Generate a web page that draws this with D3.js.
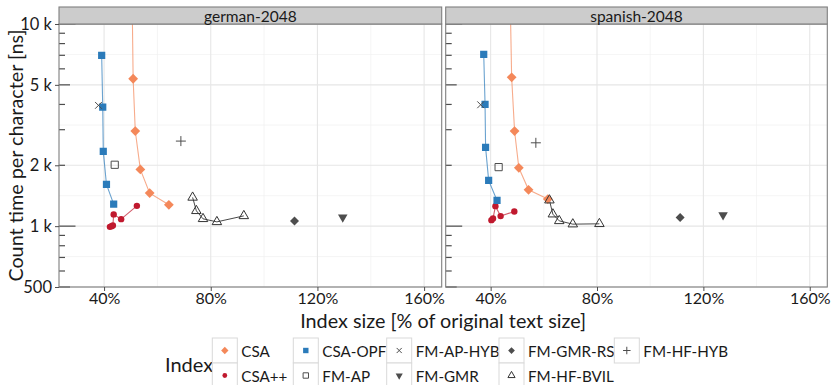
<!DOCTYPE html>
<html lang="en-US">
<head>
  <meta charset="UTF-8"/>
  <title>Count time vs index size</title>
  <style>
    body { margin: 0; background: #fff; }
    text { font-family: Lato, "Open Sans", sans-serif; fill: #1a1a1a; }
  </style>
</head>
<body>
<script src="https://cdn.jsdelivr.net/npm/d3@7"></script>
<script>

// panels and index types
var panelNames = ["german-2048", "spanish-2048"];
var indexNames = ["CSA", "CSA++", "CSA-OPF", "FM-AP", "FM-AP-HYB", "FM-GMR", "FM-GMR-RS", "FM-HF-BVIL", "FM-HF-HYB"];

// tick labels
var xTicks = [40, 80, 120, 160];
var xMinor = [60, 100, 140];
var yTicks = [500, 1000, 2000, 5000, 10000];
var yTickLabels = ["500", "1 k", "2 k", "5 k", "10 k"];

// [index size %, count time ns] -- german-2048
var deCSA      = [[50.35, 20000], [50.9, 5360], [51.7, 2954], [53.6, 1909], [57.1, 1457], [64.3, 1275]];
var deCSApp    = [[42.2, 992], [42.8, 1000], [43.3, 1008], [43.6, 1143], [46.4, 1083], [52.3, 1260]];
var deCSAOPF   = [[39.1, 7000], [39.5, 3880], [39.7, 2343], [40.9, 1608], [43.6, 1285]];
var deFMAP     = [[44.0, 2012]];
var deFMAPHYB  = [[37.9, 3958]];
var deFMGMR    = [[129.5, 1108]];
var deFMGMRRS  = [[111.4, 1059]];
var deFMHFBVIL = [[73.2, 1387], [74.6, 1191], [77.1, 1087], [82.3, 1050], [92.4, 1124]];
var deFMHFHYB  = [[68.8, 2635]];

// spanish-2048
var esCSA      = [[47.1, 20000], [47.9, 5446], [49.0, 2954], [50.6, 1944], [54.25, 1513], [61.5, 1361]];
var esCSApp    = [[40.3, 1071], [40.9, 1092], [41.8, 1256], [43.75, 1121], [48.9, 1182]];
var esCSAOPF   = [[37.4, 7079], [37.9, 4004], [38.1, 2452], [39.25, 1684], [42.4, 1340]];
var esFMAP     = [[43.0, 1959]];
var esFMAPHYB  = [[36.25, 3985]];
var esFMGMR    = [[127.4, 1134]];
var esFMGMRRS  = [[111.25, 1104]];
var esFMHFBVIL = [[62.1, 1344], [63.4, 1146], [65.8, 1062], [70.9, 1023], [80.9, 1027]];
var esFMHFHYB  = [[57.0, 2584]];

var panelData = [
  [deCSA, deCSApp, deCSAOPF, deFMAP, deFMAPHYB, deFMGMR, deFMGMRRS, deFMHFBVIL, deFMHFHYB],
  [esCSA, esCSApp, esCSAOPF, esFMAP, esFMAPHYB, esFMGMR, esFMGMRRS, esFMHFBVIL, esFMHFHYB]
];

// styling per index: shape, fill, stroke, connected line
var style = {
  "CSA":        {shape: "diamond",  fill: "#F4885A", stroke: "none",    line: "#F4885A"},
  "CSA++":      {shape: "circle",   fill: "#C0192E", stroke: "none",    line: "#C0192E"},
  "CSA-OPF":    {shape: "square",   fill: "#2B7BBA", stroke: "none",    line: "#2B7BBA"},
  "FM-AP":      {shape: "square",   fill: "none",    stroke: "#4d4d4d", line: null},
  "FM-AP-HYB":  {shape: "times",    fill: "none",    stroke: "#4d4d4d", line: null},
  "FM-GMR":     {shape: "triDown",  fill: "#4d4d4d", stroke: "none",    line: null},
  "FM-GMR-RS":  {shape: "diamondS", fill: "#4d4d4d", stroke: "none",    line: null},
  "FM-HF-BVIL": {shape: "triUp",    fill: "none",    stroke: "#333",    line: "#333"},
  "FM-HF-HYB":  {shape: "plus",     fill: "none",    stroke: "#4d4d4d", line: null}
};

var W = 831, H = 385;
var panelX = [[59, 441.7], [445.7, 827.3]];
var pTop = 24, pBottom = 287, stripH = 17;

var yScale = d3.scaleLog().domain([500, 10000]).range([pBottom, pTop]);

function shapePath(name, k) {
  k = k || 1;
  var s = 3.6 * k, r, p = d3.path();
  switch (name) {
    case "diamond":  r = 4.9 * k; return "M0," + (-r) + "L" + r + ",0L0," + r + "L" + (-r) + ",0Z";
    case "diamondS": r = 4.5 * k; return "M0," + (-r) + "L" + r + ",0L0," + r + "L" + (-r) + ",0Z";
    case "square":   return "M" + (-s) + "," + (-s) + "h" + 2 * s + "v" + 2 * s + "h" + (-2 * s) + "Z";
    case "circle":   r = 3.2 * k; p.arc(0, 0, r, 0, 2 * Math.PI); return p.toString();
    case "times":    r = 3.4 * k; return "M" + (-r) + "," + (-r) + "L" + r + "," + r + "M" + (-r) + "," + r + "L" + r + "," + (-r);
    case "plus":     r = 5 * k;   return "M" + (-r) + ",0H" + r + "M0," + (-r) + "V" + r;
    case "triUp":    r = 5.5 * k; return "M0," + (-r) + "L" + (r * 0.866) + "," + (r / 2) + "L" + (-r * 0.866) + "," + (r / 2) + "Z";
    case "triDown":  r = 5.5 * k; return "M0," + r + "L" + (r * 0.866) + "," + (-r / 2) + "L" + (-r * 0.866) + "," + (-r / 2) + "Z";
  }
}

var svg = d3.select("body").append("svg").attr("width", W).attr("height", H);

var logTicks = d3.range(500, 1000, 100).concat(d3.range(1000, 10001, 1000));
var yMinor = [707, 1414, 3162, 7071];

panelNames.forEach(function(pname, pi) {
  var x0 = panelX[pi][0], x1 = panelX[pi][1];
  var xScale = d3.scaleLinear().domain([23.1, 166.6]).range([x0, x1]);
  var g = svg.append("g");

  // grid (minor, then major)
  g.selectAll(".gmy").data(yMinor).enter().append("line")
    .attr("x1", x0).attr("x2", x1).attr("y1", yScale).attr("y2", yScale)
    .attr("stroke", "#f0f0f0").attr("stroke-width", 0.7);
  g.selectAll(".gmx").data(xMinor).enter().append("line")
    .attr("y1", pTop).attr("y2", pBottom).attr("x1", xScale).attr("x2", xScale)
    .attr("stroke", "#f0f0f0").attr("stroke-width", 0.7);
  g.selectAll(".gy").data(yTicks).enter().append("line")
    .attr("x1", x0).attr("x2", x1).attr("y1", yScale).attr("y2", yScale)
    .attr("stroke", "#e6e6e6").attr("stroke-width", 1.1);
  g.selectAll(".gx").data(xTicks).enter().append("line")
    .attr("y1", pTop).attr("y2", pBottom).attr("x1", xScale).attr("x2", xScale)
    .attr("stroke", "#e6e6e6").attr("stroke-width", 1.1);

  // log ticks on the left edge
  g.selectAll(".lt").data(logTicks).enter().append("line")
    .attr("x1", x0)
    .attr("x2", function(d) {
      var m = Math.round(d / Math.pow(10, Math.floor(Math.log10(d) + 1e-9)));
      return x0 + (m === 1 ? 16.5 : m === 5 ? 11 : 6);
    })
    .attr("y1", yScale).attr("y2", yScale)
    .attr("stroke", "#4d4d4d").attr("stroke-width", 1.2);

  // clip
  svg.append("clipPath").attr("id", "clip" + pi).append("rect")
    .attr("x", x0).attr("y", pTop).attr("width", x1 - x0).attr("height", pBottom - pTop);

  var dg = g.append("g").attr("clip-path", "url(#clip" + pi + ")");
  var line = d3.line().x(function(d) { return xScale(d[0]); }).y(function(d) { return yScale(d[1]); });

  indexNames.forEach(function(nm, ii) {
    var st = style[nm], data = panelData[pi][ii];
    if (st.line) {
      dg.append("path").datum(data).attr("d", line)
        .attr("fill", "none").attr("stroke", st.line)
        .attr("stroke-opacity", nm === "FM-HF-BVIL" ? 1 : 0.7)
        .attr("stroke-width", nm === "FM-HF-BVIL" ? 0.9 : 1.1);
    }
  });
  indexNames.forEach(function(nm, ii) {
    var st = style[nm], data = panelData[pi][ii];
    dg.selectAll(null).data(data).enter().append("path")
      .attr("transform", function(d) { return "translate(" + xScale(d[0]) + "," + yScale(d[1]) + ")"; })
      .attr("d", shapePath(st.shape))
      .attr("fill", st.fill).attr("stroke", st.stroke).attr("stroke-width", 1);
  });

  // panel border
  g.append("rect").attr("x", x0).attr("y", pTop).attr("width", x1 - x0).attr("height", pBottom - pTop)
    .attr("fill", "none").attr("stroke", "#7f7f7f").attr("stroke-width", 1.1);

  // strip
  g.append("rect").attr("x", x0).attr("y", pTop - stripH).attr("width", x1 - x0).attr("height", stripH)
    .attr("fill", "#cccccc").attr("stroke", "#7f7f7f").attr("stroke-width", 1.1);
  g.append("text").attr("x", (x0 + x1) / 2).attr("y", pTop - stripH / 2 + 0.5)
    .attr("text-anchor", "middle").attr("dominant-baseline", "central")
    .style("font-size", "15.5px").text(pname);

  // x axis
  var xa = g.append("g").attr("transform", "translate(0," + pBottom + ")")
    .call(d3.axisBottom(xScale).tickValues(xTicks).tickSize(4).tickPadding(2)
      .tickFormat(function(d) { return d + "%"; }));
  xa.select(".domain").remove();
  xa.selectAll("line").attr("stroke", "#4d4d4d");
  xa.selectAll("text").style("font-size", "16px").attr("fill", "#1a1a1a").style("font-family", null);

  // y axis (left panel only)
  if (pi === 0) {
    var ya = g.append("g").attr("transform", "translate(" + x0 + ",0)")
      .call(d3.axisLeft(yScale).tickValues(yTicks).tickSize(4).tickPadding(3)
        .tickFormat(function(d, i) { return yTickLabels[i]; }));
    ya.select(".domain").remove();
    ya.selectAll("line").attr("stroke", "#4d4d4d");
    ya.selectAll("text").style("font-size", "16.5px").attr("fill", "#1a1a1a").style("font-family", null);
  }
});

// axis titles
svg.append("text").attr("x", (panelX[0][0] + panelX[1][1]) / 2).attr("y", 320)
  .attr("text-anchor", "middle").attr("dominant-baseline", "central")
  .style("font-size", "19.8px").text("Index size [% of original text size]");
svg.append("text").attr("transform", "translate(15," + (pTop + pBottom) / 2 + ") rotate(-90)")
  .attr("text-anchor", "middle").attr("dominant-baseline", "central")
  .style("font-size", "19.8px").text("Count time per character [ns]");

// legend
var legCols = [212.3, 293.3, 386.7, 499, 614.3], legRows = [338, 363], key = 25;
var leg = svg.append("g");
leg.append("text").attr("x", 165).attr("y", 363.5).attr("dominant-baseline", "central")
  .style("font-size", "20px").text("Index");
indexNames.forEach(function(nm, i) {
  var st = style[nm];
  var kx = legCols[Math.floor(i / 2)], ky = legRows[i % 2];
  leg.append("rect").attr("x", kx).attr("y", ky).attr("width", key).attr("height", key)
    .attr("fill", "#fff").attr("stroke", "#d9d9d9").attr("stroke-width", 1);
  leg.append("path").attr("transform", "translate(" + (kx + key / 2) + "," + (ky + key / 2) + ")")
    .attr("d", shapePath(st.shape, 0.75))
    .attr("fill", st.fill).attr("stroke", st.stroke).attr("stroke-width", 1);
  leg.append("text").attr("x", kx + key + 4).attr("y", ky + key / 2)
    .attr("dominant-baseline", "central").style("font-size", "15.2px").text(nm);
});

</script>
</body>
</html>
